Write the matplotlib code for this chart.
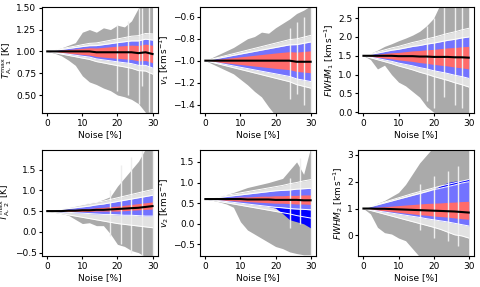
import matplotlib
matplotlib.use('Agg')
import matplotlib.pyplot as plt
import numpy as np

noise = [0, 2, 4, 6, 8, 10, 12, 14, 16, 18, 20, 22, 24, 26, 28, 30]

# T_A,1
t1_med = [1.00, 1.00, 1.00, 1.00, 1.00, 1.00, 1.00, 0.99, 0.99, 0.99, 0.99, 0.99, 0.99, 0.98, 0.99, 0.97]
t1_red = [0.0, 0.007, 0.014, 0.021, 0.028, 0.035, 0.042, 0.049, 0.056, 0.063, 0.07, 0.076, 0.082, 0.088, 0.094, 0.1]
t1_blue = [0.0, 0.011, 0.022, 0.033, 0.044, 0.055, 0.065, 0.076, 0.087, 0.098, 0.11, 0.12, 0.13, 0.14, 0.15, 0.16]
t1_light = [0.0, 0.015, 0.03, 0.046, 0.061, 0.077, 0.092, 0.107, 0.122, 0.138, 0.153, 0.168, 0.184, 0.2, 0.215, 0.23]
t1_glo = [1.0, 0.98, 0.95, 0.9, 0.84, 0.72, 0.65, 0.62, 0.58, 0.55, 0.5, 0.48, 0.45, 0.4, 0.3, 0.25]
t1_ghi = [1.0, 1.02, 1.04, 1.07, 1.1, 1.22, 1.25, 1.22, 1.27, 1.25, 1.3, 1.28, 1.35, 1.5, 1.55, 1.6]

# v_1
v1_med = [-1.0, -1.0, -1.0, -1.0, -1.0, -1.0, -1.0, -1.0, -1.0, -1.0, -1.0, -1.0, -1.0, -1.01, -1.01, -1.01]
v1_red = [0.0, 0.007, 0.014, 0.021, 0.028, 0.035, 0.042, 0.049, 0.056, 0.063, 0.07, 0.076, 0.082, 0.088, 0.094, 0.1]
v1_blue = [0.0, 0.012, 0.024, 0.036, 0.048, 0.06, 0.072, 0.084, 0.096, 0.108, 0.12, 0.132, 0.144, 0.156, 0.168, 0.18]
v1_light = [0.0, 0.016, 0.032, 0.048, 0.064, 0.08, 0.096, 0.112, 0.128, 0.144, 0.16, 0.176, 0.192, 0.208, 0.224, 0.24]
v1_glo = [-1.0, -1.03, -1.06, -1.09, -1.12, -1.17, -1.22, -1.28, -1.33, -1.42, -1.5, -1.55, -1.6, -1.6, -1.6, -1.6]
v1_ghi = [-1.0, -0.97, -0.94, -0.91, -0.88, -0.84, -0.8, -0.78, -0.74, -0.75, -0.7, -0.66, -0.62, -0.57, -0.54, -0.5]

# FWHM_1
w1_med = [1.5, 1.5, 1.5, 1.5, 1.5, 1.49, 1.49, 1.49, 1.48, 1.48, 1.47, 1.47, 1.47, 1.46, 1.46, 1.45]
w1_red = [0.0, 0.02, 0.04, 0.06, 0.08, 0.1, 0.12, 0.14, 0.16, 0.18, 0.2, 0.22, 0.24, 0.26, 0.28, 0.3]
w1_blue = [0.0, 0.037, 0.073, 0.11, 0.147, 0.183, 0.22, 0.257, 0.293, 0.33, 0.367, 0.403, 0.44, 0.477, 0.513, 0.55]
w1_light = [0.0, 0.052, 0.104, 0.156, 0.208, 0.26, 0.312, 0.364, 0.416, 0.468, 0.52, 0.572, 0.624, 0.676, 0.728, 0.78]
w1_glo = [1.5, 1.4, 1.15, 1.25, 1.0, 0.8, 0.7, 0.55, 0.4, 0.15, 0.0, -0.1, -0.1, -0.1, -0.1, -0.1]
w1_ghi = [1.5, 1.57, 1.65, 1.75, 1.82, 1.9, 1.97, 2.05, 2.15, 2.3, 2.5, 2.9, 2.9, 2.9, 2.9, 2.9]

# T_A,2
t2_med = [0.5, 0.5, 0.5, 0.51, 0.51, 0.52, 0.52, 0.53, 0.53, 0.54, 0.55, 0.56, 0.57, 0.58, 0.6, 0.62]
t2_rlo = [0.5, 0.5, 0.49, 0.49, 0.49, 0.49, 0.49, 0.5, 0.5, 0.5, 0.5, 0.51, 0.52, 0.53, 0.54, 0.55]
t2_rhi = [0.5, 0.51, 0.52, 0.53, 0.54, 0.55, 0.56, 0.58, 0.59, 0.61, 0.62, 0.64, 0.66, 0.68, 0.7, 0.72]
t2_blo = [0.5, 0.49, 0.48, 0.47, 0.46, 0.45, 0.44, 0.43, 0.42, 0.42, 0.41, 0.4, 0.4, 0.39, 0.38, 0.38]
t2_bhi = [0.5, 0.52, 0.54, 0.56, 0.58, 0.6, 0.62, 0.65, 0.67, 0.7, 0.73, 0.76, 0.79, 0.82, 0.85, 0.88]
t2_llo = [0.5, 0.47, 0.44, 0.41, 0.38, 0.35, 0.32, 0.29, 0.26, 0.23, 0.2, 0.18, 0.16, 0.14, 0.12, 0.1]
t2_lhi = [0.5, 0.53, 0.56, 0.59, 0.62, 0.65, 0.68, 0.71, 0.74, 0.78, 0.82, 0.86, 0.9, 0.94, 0.98, 1.02]
t2_glo = [0.5, 0.47, 0.44, 0.4, 0.3, 0.2, 0.22, 0.15, 0.15, -0.05, -0.3, -0.35, -0.45, -0.5, -0.6, -0.6]
t2_ghi = [0.5, 0.52, 0.55, 0.58, 0.62, 0.66, 0.7, 0.72, 0.78, 0.85, 1.1, 1.3, 1.5, 1.7, 2.0, 2.0]

# v_2
v2_med = [0.6, 0.6, 0.6, 0.6, 0.6, 0.6, 0.59, 0.59, 0.59, 0.59, 0.58, 0.58, 0.58, 0.58, 0.57, 0.57]
v2_rlo = [0.6, 0.59, 0.58, 0.57, 0.56, 0.55, 0.54, 0.53, 0.52, 0.51, 0.5, 0.5, 0.49, 0.48, 0.48, 0.47]
v2_rhi = [0.6, 0.61, 0.62, 0.63, 0.64, 0.65, 0.65, 0.66, 0.67, 0.67, 0.68, 0.68, 0.69, 0.69, 0.7, 0.7]
v2_blo = [0.6, 0.58, 0.56, 0.54, 0.52, 0.5, 0.48, 0.46, 0.44, 0.42, 0.4, 0.39, 0.37, 0.36, 0.35, 0.34]
v2_bhi = [0.6, 0.62, 0.64, 0.66, 0.68, 0.7, 0.72, 0.74, 0.76, 0.78, 0.8, 0.81, 0.82, 0.84, 0.85, 0.86]
v2_dlo = [0.6, 0.58, 0.56, 0.54, 0.52, 0.5, 0.48, 0.46, 0.44, 0.42, 0.38, 0.25, 0.1, 0.05, 0.0, -0.1]
v2_llo = [0.6, 0.57, 0.54, 0.51, 0.48, 0.45, 0.42, 0.39, 0.36, 0.33, 0.3, 0.27, 0.24, 0.2, 0.17, 0.14]
v2_lhi = [0.6, 0.63, 0.66, 0.69, 0.72, 0.75, 0.78, 0.81, 0.84, 0.87, 0.9, 0.93, 0.97, 1.0, 1.04, 1.07]
v2_glo = [0.6, 0.57, 0.53, 0.48, 0.4, 0.05, -0.15, -0.25, -0.35, -0.45, -0.55, -0.6, -0.68, -0.72, -0.75, -0.75]
v2_ghi = [0.6, 0.63, 0.67, 0.71, 0.76, 0.82, 0.88, 0.92, 0.96, 1.0, 1.05, 1.1, 1.3, 1.5, 1.2, 1.85]

# FWHM_2
w2_med = [1.0, 1.0, 0.99, 0.99, 0.98, 0.97, 0.96, 0.95, 0.94, 0.93, 0.92, 0.91, 0.9, 0.89, 0.87, 0.85]
w2_rlo = [1.0, 0.97, 0.94, 0.92, 0.89, 0.86, 0.83, 0.8, 0.77, 0.75, 0.72, 0.7, 0.68, 0.65, 0.62, 0.6]
w2_rhi = [1.0, 1.03, 1.05, 1.07, 1.09, 1.11, 1.13, 1.15, 1.17, 1.19, 1.2, 1.21, 1.23, 1.24, 1.26, 1.27]
w2_blo = [1.0, 0.95, 0.91, 0.87, 0.83, 0.79, 0.75, 0.71, 0.67, 0.62, 0.58, 0.54, 0.5, 0.45, 0.4, 0.35]
w2_bhi = [1.0, 1.07, 1.14, 1.21, 1.28, 1.35, 1.42, 1.49, 1.56, 1.63, 1.7, 1.76, 1.82, 1.88, 1.95, 2.0]
w2_dhi = [1.0, 1.07, 1.14, 1.21, 1.28, 1.35, 1.42, 1.49, 1.56, 1.63, 1.72, 1.85, 1.97, 2.02, 2.05, 2.1]
w2_llo = [1.0, 0.93, 0.86, 0.79, 0.72, 0.65, 0.58, 0.51, 0.44, 0.37, 0.3, 0.22, 0.12, 0.02, -0.02, -0.1]
w2_lhi = [1.0, 1.08, 1.16, 1.24, 1.32, 1.4, 1.48, 1.56, 1.63, 1.7, 1.77, 1.84, 1.9, 1.96, 2.02, 2.08]
w2_glo = [1.0, 0.8, 0.3, 0.1, 0.05, -0.1, -0.2, -0.5, -0.8, -0.9, -0.9, -0.9, -0.9, -0.9, -0.9, -0.9]
w2_ghi = [1.0, 1.1, 1.2, 1.3, 1.45, 1.6, 1.9, 2.3, 2.7, 3.0, 3.3, 3.3, 3.3, 3.3, 3.3, 3.3]

# vertical spikes (x, lo, hi) drawn in light grey
t1_spikes = [(20, 0.55, 1.3), (23, 0.5, 1.35), (26, 0.4, 1.5), (27, 0.6, 1.5), (29, 0.3, 1.55)]
v1_spikes = [(24, -1.35, -0.7), (26, -1.3, -0.65), (28, -1.4, -0.6), (30, -1.5, -0.5)]
w1_spikes = [(18, 0.3, 2.3), (20, 0.1, 2.5), (23, 0.4, 2.8), (26, 0.2, 2.8), (28, 0.1, 2.8)]
t2_spikes = [(18, -0.1, 1.0), (21, -0.3, 1.6), (24, -0.5, 1.8), (27, -0.6, 2.0), (30, -0.6, 2.0)]
v2_spikes = [(24, -0.1, 1.1), (27, 0.0, 1.6), (30, -0.75, 1.85)]
w2_spikes = [(16, 0.2, 1.9), (20, -0.1, 2.2), (24, -0.2, 2.4), (27, -0.4, 2.6)]

ylabels = [r'$T_{\rm A,\,1}^{\rm max}$ [K]', r'$v_1$ [km$\,$s$^{-1}$]', r'$FWHM_1$ [km$\,$s$^{-1}$]',
           r'$T_{\rm A,\,2}^{\rm max}$ [K]', r'$v_2$ [km$\,$s$^{-1}$]', r'$FWHM_2$ [km$\,$s$^{-1}$]']
ylims = [(0.29, 1.51), (-1.48, -0.51), (-0.03, 2.8), (-0.58, 1.98), (-0.78, 1.8), (-0.77, 3.2)]
yticks = [[0.5, 0.75, 1.0, 1.25, 1.5], [-1.4, -1.2, -1.0, -0.8, -0.6], [0.0, 0.5, 1.0, 1.5, 2.0, 2.5],
          [-0.5, 0.0, 0.5, 1.0, 1.5], [-0.5, 0.0, 0.5, 1.0, 1.5], [0, 1, 2, 3]]


def sym(med, hw):
    med = np.array(med)
    hw = np.array(hw)
    return med - hw, med + hw


panels = []
for med, red, blue, light, glo, ghi, sp in [(t1_med, t1_red, t1_blue, t1_light, t1_glo, t1_ghi, t1_spikes),
                                            (v1_med, v1_red, v1_blue, v1_light, v1_glo, v1_ghi, v1_spikes),
                                            (w1_med, w1_red, w1_blue, w1_light, w1_glo, w1_ghi, w1_spikes)]:
    rlo, rhi = sym(med, red)
    blo, bhi = sym(med, blue)
    llo, lhi = sym(med, light)
    panels.append(dict(med=med, rlo=rlo, rhi=rhi, blo=blo, bhi=bhi, llo=llo, lhi=lhi,
                       glo=glo, ghi=ghi, spikes=sp, dlo=None, dhi=None))
panels.append(dict(med=t2_med, rlo=t2_rlo, rhi=t2_rhi, blo=t2_blo, bhi=t2_bhi, llo=t2_llo, lhi=t2_lhi,
                   glo=t2_glo, ghi=t2_ghi, spikes=t2_spikes, dlo=None, dhi=None))
panels.append(dict(med=v2_med, rlo=v2_rlo, rhi=v2_rhi, blo=v2_blo, bhi=v2_bhi, llo=v2_llo, lhi=v2_lhi,
                   glo=v2_glo, ghi=v2_ghi, spikes=v2_spikes, dlo=v2_dlo, dhi=None))
panels.append(dict(med=w2_med, rlo=w2_rlo, rhi=w2_rhi, blo=w2_blo, bhi=w2_bhi, llo=w2_llo, lhi=w2_lhi,
                   glo=w2_glo, ghi=w2_ghi, spikes=w2_spikes, dlo=None, dhi=w2_dhi))

plt.rcParams['font.size'] = 6.5
fig, axes = plt.subplots(2, 3, figsize=(4.8, 2.87), dpi=100)
fig.subplots_adjust(left=0.0875, right=0.9875, top=0.976, bottom=0.108, wspace=0.365, hspace=0.34)

for i, ax in enumerate(axes.flat):
    p = panels[i]
    ax.fill_between(noise, p['glo'], p['ghi'], color='#aaaaaa', lw=0)
    ax.fill_between(noise, p['llo'], p['lhi'], color='#e2e2e2', lw=0)
    for x, lo, hi in p['spikes']:
        ax.vlines(x, lo, hi, color='#eeeeee', lw=1.0)
    if p['dlo'] is not None:
        ax.fill_between(noise, p['dlo'], p['blo'], color='#0000ff', lw=0)
    if p['dhi'] is not None:
        ax.fill_between(noise, p['bhi'], p['dhi'], color='#0000ff', lw=0)
    ax.fill_between(noise, p['blo'], p['bhi'], color='#7373ff', lw=0)
    ax.fill_between(noise, p['rlo'], p['rhi'], color='#ff6b6b', lw=0)
    for key in ['llo', 'lhi', 'blo', 'bhi']:
        ax.plot(noise, p[key], color='white', lw=0.7)
    ax.plot(noise, p['med'], color='black', lw=1.5)
    ax.set_xlim(-1.5, 31.5)
    ax.set_ylim(*ylims[i])
    ax.set_yticks(yticks[i])
    ax.set_xticks([0, 10, 20, 30])
    ax.set_ylabel(ylabels[i], labelpad=1.5)
    ax.set_xlabel('Noise [%]', labelpad=1.5)
    ax.tick_params(length=2.5, pad=1.5)

fig.savefig('out.png', dpi=100)
